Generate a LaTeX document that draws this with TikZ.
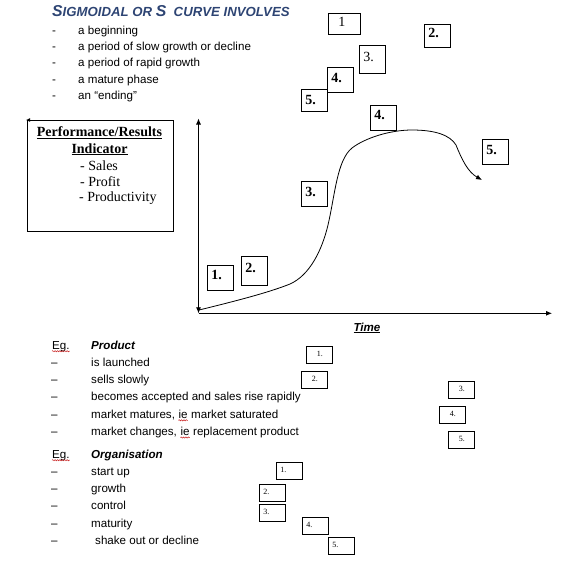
\documentclass[tikz,border=0pt]{standalone}
\usepackage{fontspec}
\setmainfont{Liberation Sans}
\newfontfamily\tnr{Liberation Serif}
\usetikzlibrary{positioning}
\usetikzlibrary{arrows.meta, decorations.pathmorphing}

\definecolor{titleblue}{RGB}{45,68,115}
\definecolor{spellred}{RGB}{200,30,30}

\tikzset{
    txt/.style={anchor=base west, inner sep=0pt, font=\fontsize{11.6}{13}\selectfont},
    numbox/.style={draw, line width=0.8pt, anchor=north west, inner xsep=4pt, inner ysep=2pt,
        text width=18pt, text height=12pt, text depth=9pt, font=\tnr\bfseries\fontsize{14}{14}\selectfont},
    tinybox/.style={draw, line width=0.7pt, anchor=north west, inner xsep=4pt, inner ysep=1.5pt,
        text width=18pt, text height=8.5pt, text depth=5.5pt, font=\tnr\fontsize{8}{8}\selectfont},
    arr/.style={-{Latex[length=6pt,width=5pt]}},
    wavy/.style={spellred, line width=0.5pt, decorate, decoration={snake, amplitude=0.6pt, segment length=2.4pt}},
}

\begin{document}
\begin{tikzpicture}[x=1pt,y=-1pt]
    \useasboundingbox (0,0) rectangle (572,560);

    % heading and list
    \node[txt, text=titleblue, font=\bfseries\itshape] (title) at (52,16.7)
        {{\fontsize{15.8}{16}\selectfont S}{\fontsize{13.2}{14}\selectfont IGMOIDAL OR }{\fontsize{15.8}{16}\selectfont S}{\fontsize{13.2}{14}\selectfont\ \ CURVE INVOLVES}};
    \node[txt] (d1) at (52,34.3) {-};
    \node[txt] (b1) at (78,34.3) {a beginning};
    \node[txt] (d2) at (52,50.6) {-};
    \node[txt] (b2) at (78,50.6) {a period of slow growth or decline};
    \node[txt] (d3) at (52,66.9) {-};
    \node[txt] (b3) at (78,66.9) {a period of rapid growth};
    \node[txt] (d4) at (52,83.2) {-};
    \node[txt] (b4) at (78,83.2) {a mature phase};
    \node[txt] (d5) at (52,99.5) {-};
    \node[txt] (b5) at (78,99.5) {an ``ending''};

    % boxes at the top
    \node[numbox, font=\tnr\fontsize{14}{14}\selectfont, inner xsep=10pt, text width=12pt, text height=11pt, text depth=6pt] (t1) at (328,13) {1};
    \node[numbox, text height=11pt, text depth=8pt] (t2) at (424,24) {2.};
    \node[numbox, font=\tnr\fontsize{14}{14}\selectfont, text height=13.7pt, text depth=10.3pt] (t3) at (359,45) {3.};
    \node[numbox, text height=12.7pt, text depth=8.3pt] (t4) at (327,67) {4.};
    \node[numbox, text height=13pt, text depth=5pt] (t5) at (301,89) {5.};

    % indicator box
    \node[draw, line width=0.8pt, anchor=north west, minimum width=146pt, minimum height=111pt, inner sep=0pt] (ind) at (27,120) {};
    \draw[line width=0.8pt, -{Latex[length=4pt,width=4pt]}] ([xshift=4pt]ind.north west) -- ([xshift=-1pt]ind.north west);
    \node[anchor=base, inner sep=0pt, font=\tnr\bfseries\fontsize{14}{16}\selectfont] (perf) at (99.5,136.7) {\underline{Performance/Results}};
    \node[anchor=base, inner sep=0pt, font=\tnr\bfseries\fontsize{14}{16}\selectfont] (indic) at (99.5,153) {\underline{Indicator}};
    \node[anchor=base west, inner sep=0pt, font=\tnr\fontsize{14}{16}\selectfont] (sales) at (80,170) {- Sales};
    \node[anchor=base west, inner sep=0pt, font=\tnr\fontsize{14}{16}\selectfont] (profit) at (80,186) {- Profit};
    \node[anchor=base west, inner sep=0pt, font=\tnr\fontsize{14}{16}\selectfont] (produc) at (79,201.7) {- Productivity};

    % axes
    \coordinate (origin) at (198.5,313.3);
    \coordinate (ybot) at (198.5,313.3);
    \coordinate (ytop) at (198.5,118.5);
    \coordinate (xend) at (552,313.3);
    \draw[line width=0.8pt, {Latex[length=6pt,width=5pt]}-{Latex[length=6pt,width=5pt]}] (ybot) -- (ytop);
    \draw[line width=0.8pt, arr] (origin) -- (xend);
    \node[anchor=base, inner sep=0pt, font=\bfseries\itshape\fontsize{11.6}{13}\selectfont] (time) at (367,331) {\underline{Time}};

    % s curve
    \coordinate (c0) at (199,310);
    \coordinate (cend) at (482,180);
    \draw[line width=0.8pt, arr] (c0) .. controls (240,300) and (270,292) .. (290,284)
        .. controls (310,275) and (322,250) .. (328,225)
        .. controls (335,195) and (337,160) .. (352,148)
        .. controls (365,138) and (390,130) .. (412,130)
        .. controls (435,130) and (450,135) .. (456,145)
        .. controls (462,160) and (468,172) .. (cend);

    % boxes along the curve
    \node[numbox] (g1) at (207,265) {1.};
    \node[numbox, text height=13.7pt, text depth=11.3pt] (g2) at (241,256) {2.};
    \node[numbox, text height=12.7pt, text depth=8.3pt] (g3) at (301,181) {3.};
    \node[numbox] (g4) at (370,105) {4.};
    \node[numbox, text height=13pt, text depth=8pt] (g5) at (482,139) {5.};

    % product
    \node[txt] (eg1) at (52,349) {Eg.};
    \node[txt, font=\bfseries\itshape\fontsize{11.6}{13}\selectfont] (prod) at (91,349) {Product};
    \node[txt] (pd1) at (51,366.5) {--};
    \node[txt] (p1) at (91,366.5) {is launched};
    \node[txt] (pd2) at (51,383.7) {--};
    \node[txt] (p2) at (91,383.7) {sells slowly};
    \node[txt] (pd3) at (51,400.9) {--};
    \node[txt] (p3) at (91,400.9) {becomes accepted and sales rise rapidly};
    \node[txt] (pd4) at (51,418.1) {--};
    \node[txt] (p4) at (91,418.1) {market matures,};
    \node[txt, xshift=3.2pt] (ie1) at (p4.base east) {ie};
    \node[txt, xshift=3.2pt] (p4b) at (ie1.base east) {market saturated};
    \node[txt] (pd5) at (51,435.3) {--};
    \node[txt] (p5) at (91,435.3) {market changes,};
    \node[txt, xshift=3.2pt] (ie2) at (p5.base east) {ie};
    \node[txt, xshift=3.2pt] (p5b) at (ie2.base east) {replacement product};
    \draw[wavy] ([yshift=-2.2pt]eg1.base west) -- ([yshift=-2.2pt]eg1.base east);
    \draw[wavy] ([yshift=-2.2pt]ie1.base west) -- ([yshift=-2.2pt]ie1.base east);
    \draw[wavy] ([yshift=-2.2pt]ie2.base west) -- ([yshift=-2.2pt]ie2.base east);

    \node[tinybox, inner xsep=10.5pt, text width=5pt] (pb1) at (306,346) {1.};
    \node[tinybox, inner xsep=10.5pt, text width=5pt] (pb2) at (301,371) {2.};
    \node[tinybox, inner xsep=10.5pt, text width=5pt] (pb3) at (448,381) {3.};
    \node[tinybox, inner xsep=10.5pt, text width=5pt] (pb4) at (439,406) {4.};
    \node[tinybox, inner xsep=10.5pt, text width=5pt] (pb5) at (448,431) {5.};

    % organisation
    \node[txt] (eg2) at (52,458) {Eg.};
    \node[txt, font=\bfseries\itshape\fontsize{11.6}{13}\selectfont] (org) at (91,458) {Organisation};
    \draw[wavy] ([yshift=-2.2pt]eg2.base west) -- ([yshift=-2.2pt]eg2.base east);
    \node[txt] (od1) at (51,475.5) {--};
    \node[txt] (o1) at (91,475.5) {start up};
    \node[txt] (od2) at (51,492.7) {--};
    \node[txt] (o2) at (91,492.7) {growth};
    \node[txt] (od3) at (51,509.9) {--};
    \node[txt] (o3) at (91,509.9) {control};
    \node[txt] (od4) at (51,527.1) {--};
    \node[txt] (o4) at (91,527.1) {maturity};
    \node[txt] (od5) at (51,544.3) {--};
    \node[txt] (o5) at (95,544.3) {shake out or decline};

    \node[tinybox] (ob1) at (276,462) {1.};
    \node[tinybox] (ob2) at (259,484) {2.};
    \node[tinybox] (ob3) at (259,504) {3.};
    \node[tinybox] (ob4) at (302,517) {4.};
    \node[tinybox] (ob5) at (328,537) {5.};
\end{tikzpicture}
\end{document}
